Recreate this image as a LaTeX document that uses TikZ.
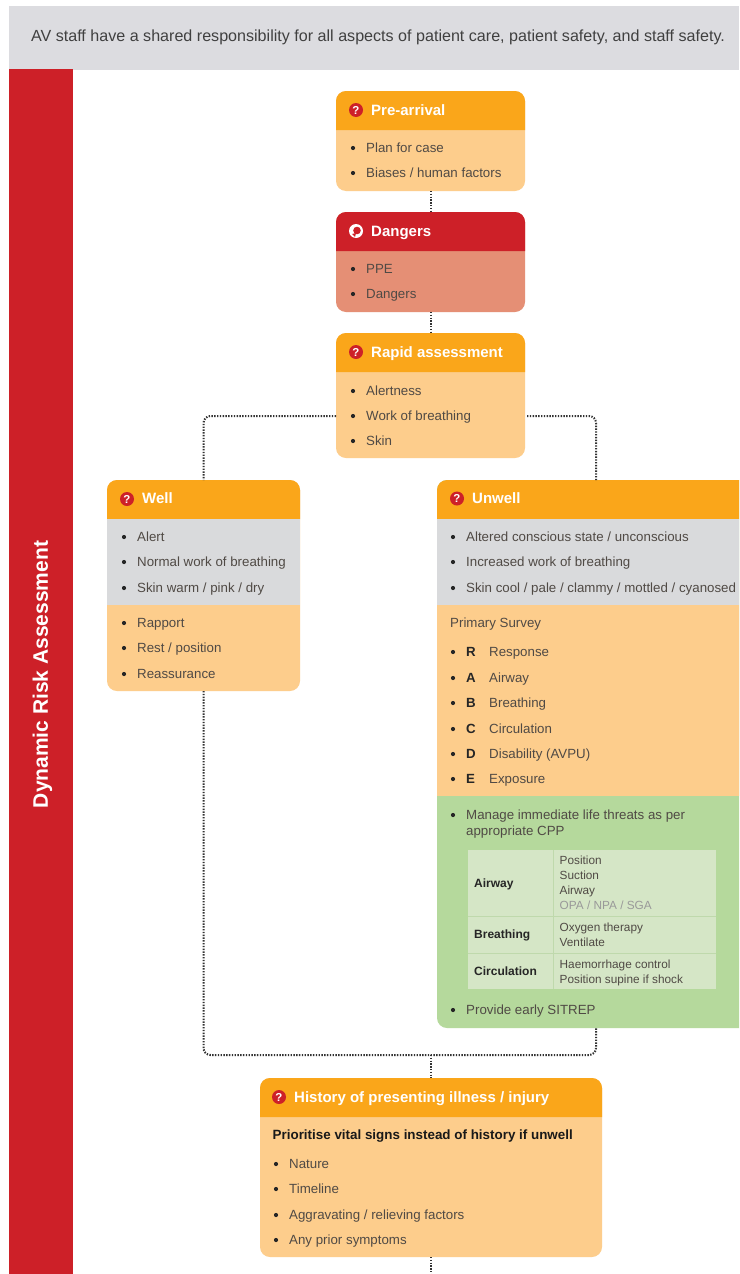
\documentclass[tikz,border=0pt]{standalone}
\usepackage{fontspec}
\setmainfont{Liberation Sans}
\definecolor{avgrey}{HTML}{DCDCE0}
\definecolor{avred}{HTML}{CD2028}
\definecolor{avorange}{HTML}{FAA61A}
\definecolor{avlight}{HTML}{FDCD8C}
\definecolor{avsalmon}{HTML}{E58F75}
\definecolor{avpanel}{HTML}{D9DADC}
\definecolor{avgreen}{HTML}{B5D99C}
\definecolor{avtable}{HTML}{D5E6C6}
\definecolor{avrule}{HTML}{BFD9AC}
\definecolor{avtext}{HTML}{504A45}
\newcount\tn
\newcommand{\txt}[3]{\global\advance\tn by 1 \node[bodytext] (t\the\tn) at (#1,#2) {#3};}
\newcommand{\blt}[3]{\global\advance\tn by 1 \node[dotmark] (d\the\tn) at (#1-13,#2) {}; \node[bodytext] (t\the\tn) at (#1,#2) {#3};}
\newcommand{\keyed}[2]{\makebox[23pt][l]{\textbf{\textcolor{black!85}{#1}}}#2}
\newcommand{\band}[4]{\fill[#4] ([yshift=-#2pt]#1.north west) rectangle ([yshift=-#3pt]#1.north east);}
\newcommand{\hdr}[2]{\fill[#2,rounded corners=10pt] ([yshift=-39pt]#1.north west) [sharp corners] -- ([yshift=-39pt]#1.north east) [rounded corners=10pt] -- (#1.north east) -- (#1.north west) [sharp corners] -- cycle;}
\newcommand{\qicon}[3]{\node[qmark] (#1i) at (#2,#3) {?};}
\tikzset{
 box/.style={anchor=north west,inner sep=0pt,outer sep=0pt,rounded corners=10pt,fill=#1},
 bodytext/.style={anchor=west,inner sep=0pt,text height=11.5pt,text depth=2.8pt,text=avtext,font=\fontsize{13.3}{15}\selectfont},
 dotmark/.style={circle,fill=black!85,minimum size=4.2pt,inner sep=0pt},
 headtext/.style={anchor=west,inner sep=0pt,text height=13.5pt,text depth=3pt,text=white,font=\fontsize{15}{17}\selectfont\bfseries},
 qmark/.style={circle,fill=avred,text=white,minimum size=14pt,inner sep=0pt,font=\fontsize{11.5}{11.5}\selectfont\bfseries},
 cell/.style={anchor=west,inner sep=0pt,text height=10.5pt,text depth=2.5pt,text=avtext,font=\fontsize{11.8}{13}\selectfont},
 cellhead/.style={anchor=west,inner sep=0pt,text height=10.8pt,text depth=2.5pt,text=black!85,font=\fontsize{12}{14}\selectfont\bfseries},
 conn/.style={draw=black!80,line width=2pt,dash pattern=on 1.4pt off 1.4pt},
}
\begin{document}
\begin{tikzpicture}[x=1pt,y=-1pt]
\useasboundingbox (0,0) rectangle (739,1274);
\clip (0,0) rectangle (739,1274);
\fill[white] (0,0) rectangle (739,1274);
% banner and side bar
\node[anchor=north west,fill=avgrey,minimum width=730pt,minimum height=63.5pt,inner sep=0pt,outer sep=0pt] (banner) at (9,6) {};
\node[anchor=north west,fill=avred,minimum width=64pt,minimum height=1205pt,inner sep=0pt,outer sep=0pt] (bar) at (9,69) {};
\node[inner sep=0pt,text=black!75,font=\fontsize{16.1}{18}\selectfont] (bannertext) at (378,37.5) {AV staff have a shared responsibility for all aspects of patient care, patient safety, and staff safety.};
\node[rotate=90,inner sep=0pt,text=white,font=\fontsize{21}{23}\selectfont\bfseries] (bartext) at (42.5,674.5) {Dynamic Risk Assessment};
% boxes
\node[box=avlight,minimum width=189pt,minimum height=100pt] (pre) at (336,91) {};
\node[box=avsalmon,minimum width=189pt,minimum height=100pt] (dangers) at (336,212) {};
\node[box=avlight,minimum width=189pt,minimum height=125pt] (rapid) at (336,333) {};
\node[box=avlight,minimum width=193pt,minimum height=211pt] (well) at (107,480) {};
\node[box=avgreen,minimum width=318pt,minimum height=548pt] (unwell) at (437,480) {};
\node[box=avlight,minimum width=342pt,minimum height=179pt] (history) at (260,1078) {};
\hdr{pre}{avorange}
\hdr{dangers}{avred}
\hdr{rapid}{avorange}
\hdr{well}{avorange}
\hdr{unwell}{avorange}
\hdr{history}{avorange}
\band{well}{39}{125}{avpanel}
\band{unwell}{39}{125}{avpanel}
\band{unwell}{125}{316}{avlight}
% connectors
\coordinate (rapidL) at ([yshift=-20.5pt]rapid.west);
\coordinate (rapidR) at ([yshift=-20.5pt,xshift=2pt]rapid.east);
\coordinate (join) at (431,1055);
\coordinate (pageend) at (431,1274);
\draw[conn] (pre.south) -- (dangers.north);
\draw[conn] (dangers.south) -- (rapid.north);
\draw[conn,rounded corners=7pt] (rapidL) -| (well.north);
\draw[conn,rounded corners=7pt] (rapidR) -| (unwell.north);
\draw[conn,rounded corners=7pt] (well.south) |- (join) -| (unwell.south);
\draw[conn] (join) -- (history.north);
\draw[conn] (history.south) -- (pageend);
% headers
\qicon{pre}{356}{110}
\node[headtext] (prehead) at (371,110) {Pre-arrival};
\node[circle,fill=white,minimum size=14pt,inner sep=0pt] (dangi) at (356,231) {};
\fill[avred] (357,230.5) circle (3.8pt);
\fill[avred] (352,234) -- (356,233) -- (355,237) -- cycle;
\node[headtext] (danghead) at (371,231) {Dangers};
\qicon{rapid}{356}{352}
\node[headtext] (rapidhead) at (371,352) {Rapid assessment};
\qicon{well}{127}{499}
\node[headtext] (wellhead) at (142,498.5) {Well};
\qicon{unwell}{457}{498.5}
\node[headtext] (unwellhead) at (472,498.5) {Unwell};
\qicon{history}{279}{1097}
\node[headtext] (histhead) at (294,1097) {History of presenting illness / injury};
% lists
\blt{366}{148}{Plan for case}
\blt{366}{173}{Biases / human factors}
\blt{366}{269}{PPE}
\blt{366}{294}{Dangers}
\blt{366}{391}{Alertness}
\blt{366}{416}{Work of breathing}
\blt{366}{441}{Skin}
\blt{137}{537}{Alert}
\blt{137}{562}{Normal work of breathing}
\blt{137}{588}{Skin warm / pink / dry}
\blt{137}{623}{Rapport}
\blt{137}{648}{Rest / position}
\blt{137}{674}{Reassurance}
\blt{466}{537}{Altered conscious state / unconscious}
\blt{466}{562}{Increased work of breathing}
\blt{466}{588}{Skin cool / pale / clammy / mottled / cyanosed}
\txt{450}{623}{Primary Survey}
\blt{466}{652}{\keyed{R}{Response}}
\blt{466}{678}{\keyed{A}{Airway}}
\blt{466}{703}{\keyed{B}{Breathing}}
\blt{466}{729}{\keyed{C}{Circulation}}
\blt{466}{754}{\keyed{D}{Disability (AVPU)}}
\blt{466}{779}{\keyed{E}{Exposure}}
\blt{466}{815}{Manage immediate life threats as per}
\txt{466}{831}{appropriate CPP}
\blt{466}{1010}{Provide early SITREP}
% table
\node[anchor=north west,fill=avtable,minimum width=248pt,minimum height=139pt,inner sep=0pt,outer sep=0pt] (tbl) at (468,850) {};
\draw[avrule,line width=0.8pt] (553,850) -- (553,989);
\draw[avrule,line width=0.8pt] (468,916) -- (716,916);
\draw[avrule,line width=0.8pt] (468,953) -- (716,953);
\node[cellhead] (ca) at (474,883) {Airway};
\node[cellhead] (cb) at (474,934) {Breathing};
\node[cellhead] (cc) at (474,971) {Circulation};
\node[cell] (c1) at (559.5,860) {Position};
\node[cell] (c2) at (559.5,875) {Suction};
\node[cell] (c3) at (559.5,890) {Airway};
\node[cell,text=black!40] (c4) at (559.5,905) {OPA / NPA / SGA};
\node[cell] (c5) at (559.5,927) {Oxygen therapy};
\node[cell] (c6) at (559.5,942) {Ventilate};
\node[cell] (c7) at (559.5,964) {Haemorrhage control};
\node[cell] (c8) at (559.5,979) {Position supine if shock};
% history
\node[bodytext,text=black!90,font=\fontsize{13.4}{15}\selectfont\bfseries] (histbold) at (272.5,1135) {Prioritise vital signs instead of history if unwell};
\blt{289}{1164}{Nature}
\blt{289}{1189}{Timeline}
\blt{289}{1215}{Aggravating / relieving factors}
\blt{289}{1240}{Any prior symptoms}
\end{tikzpicture}
\end{document}
